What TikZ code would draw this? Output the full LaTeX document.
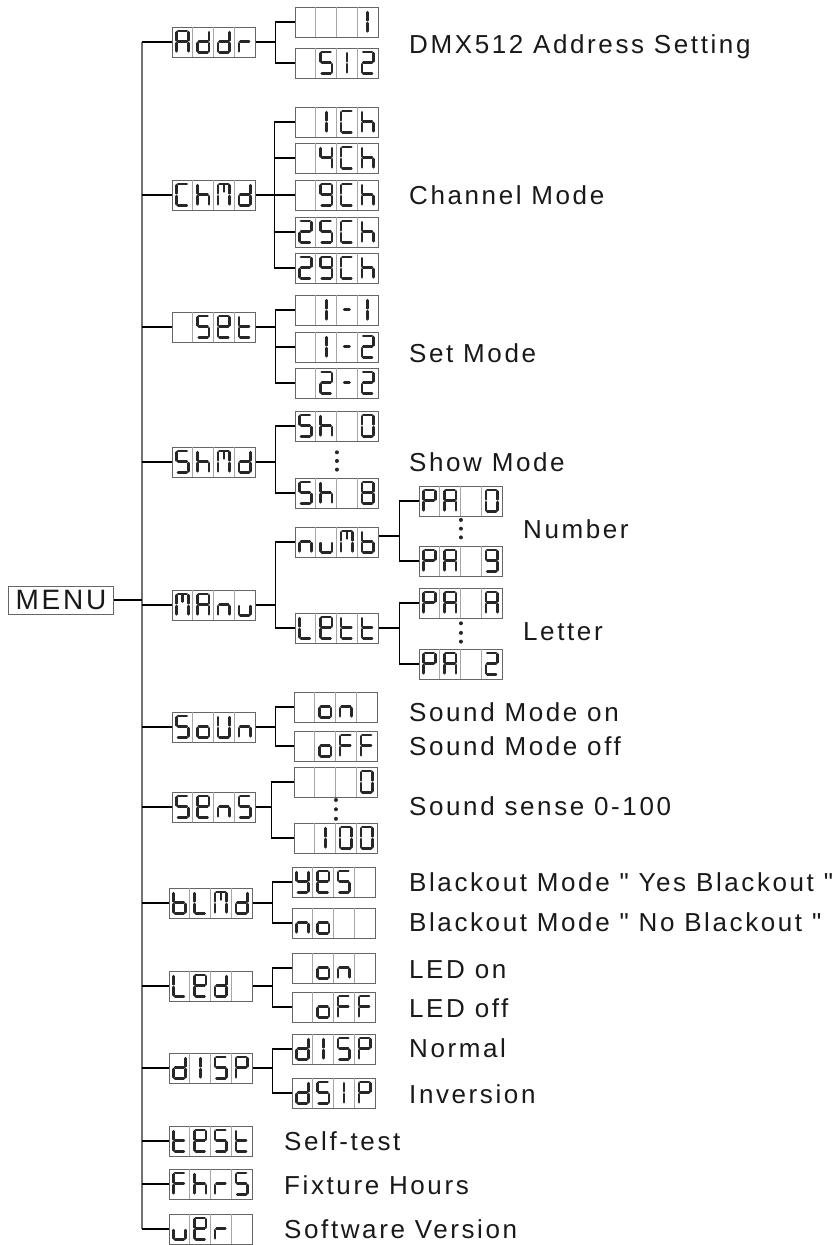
\documentclass[tikz,border=0pt]{standalone}
\usepackage{fontspec}
\newfontfamily\labelfont{Liberation Sans}[LetterSpace=10]
\usetikzlibrary{calc}

% segments of one display cell (x right, y down)
\expandafter\def\csname lcds-a\endcsname{(6,4.3) -- (14.8,4.3)}
\expandafter\def\csname lcds-b\endcsname{(16.2,5.7) -- (16.2,13.8)}
\expandafter\def\csname lcds-c\endcsname{(16.2,16.6) -- (16.2,24.7)}
\expandafter\def\csname lcds-d\endcsname{(6,26.1) -- (14.8,26.1)}
\expandafter\def\csname lcds-e\endcsname{(4.6,16.6) -- (4.6,24.7)}
\expandafter\def\csname lcds-f\endcsname{(4.6,5.7) -- (4.6,13.8)}
\expandafter\def\csname lcds-g\endcsname{(6,15.2) -- (14.8,15.2)}
\expandafter\def\csname lcds-i\endcsname{(10.4,5.7) -- (10.4,13.8)}
\expandafter\def\csname lcds-j\endcsname{(10.4,16.6) -- (10.4,24.7)}
\expandafter\def\csname lcds-k\endcsname{(10.4,5.7) -- (10.4,12)}
\expandafter\def\csname lcds-m\endcsname{(7.8,15.2) -- (13,15.2)}
\expandafter\def\csname lcds-z\endcsname{(0,0)}

% glyphs
\newcommand{\defglyph}[2]{\expandafter\def\csname lcdg-#1\endcsname{#2}}
\defglyph{x}{z}
\defglyph{-}{m}
\defglyph{0}{a,b,c,d,e,f}
\defglyph{1}{i,j}
\defglyph{2}{a,b,d,e,g}
\defglyph{4}{b,c,f,g}
\defglyph{5}{a,c,d,f,g}
\defglyph{8}{a,b,c,d,e,f,g}
\defglyph{9}{a,b,c,d,f,g}
\defglyph{A}{a,b,c,e,f,g}
\defglyph{b}{c,d,e,f,g}
\defglyph{C}{a,d,e,f}
\defglyph{d}{b,c,d,e,g}
\defglyph{E}{a,b,d,e,f,g}
\defglyph{F}{a,e,f,g}
\defglyph{h}{c,e,f,g}
\defglyph{L}{d,e,f}
\defglyph{M}{a,b,c,e,f,k}
\defglyph{n}{c,e,g}
\defglyph{o}{c,d,e,g}
\defglyph{P}{a,b,e,f,g}
\defglyph{r}{e,g}
\defglyph{S}{a,c,d,f,g}
\defglyph{t}{d,e,f,g}
\defglyph{u}{c,d,e}
\defglyph{U}{b,c,d,e,f}
\defglyph{Y}{b,c,d,f,g}

\tikzset{
  lcdbox/.style={draw=black!60, line width=0.9pt, rectangle, minimum width=83pt,
    minimum height=30pt, inner sep=0pt, anchor=west},
  lcddiv/.style={draw=black!35, line width=0.8pt},
  lcdseg/.style={draw=black!85, line width=2.7pt, line cap=round},
  link/.style={line width=1.1pt},
  stem/.style={line width=2pt},
  busline/.style={draw=black!55, line width=1.4pt},
  caption/.style={anchor=base west, inner sep=0pt, text=black!90,
    font=\labelfont\fontsize{26}{30}\selectfont},
}

% four-cell display content of a box
\newcommand{\lcdshow}[2]{%
  \foreach \k in {1,2,3}
    \draw[lcddiv] ($(#1.north west)+(\k*20.75,0)$) -- ($(#1.south west)+(\k*20.75,0)$);
  \foreach \ch [count=\k from 0] in {#2}{%
    \begin{scope}[shift={(#1.north west)}, xshift=\k*20.75]
      \edef\seglist{\csname lcdg-\ch\endcsname}%
      \foreach \s in \seglist {\draw[lcdseg] \csname lcds-\s\endcsname;}
    \end{scope}}}

\begin{document}
\begin{tikzpicture}[x=1pt, y=-1pt]
\path[use as bounding box, fill=white] (0,0) rectangle (835,1245);
\coordinate (bus) at (142,0);

% Menu
\node[draw=black!60, line width=0.9pt, minimum width=105pt, minimum height=28pt,
  inner sep=0pt, anchor=west, text=black!90,
  font=\labelfont\fontsize{28}{30}\selectfont] (menu) at (8,600) {MENU};

% First level
\node[lcdbox] (addr) at (172,42) {};
\node[lcdbox] (chmd) at (172,195) {};
\node[lcdbox] (set) at (172,327) {};
\node[lcdbox] (shmd) at (172,462) {};
\node[lcdbox] (manu) at (172,605) {};
\node[lcdbox] (soun) at (172,727) {};
\node[lcdbox] (sens) at (172,807) {};
\node[lcdbox] (blmd) at (169,903) {};
\node[lcdbox] (led) at (169,986) {};
\node[lcdbox] (disp) at (169,1068) {};
\node[lcdbox] (test) at (169,1141) {};
\node[lcdbox] (fhrs) at (169,1184) {};
\node[lcdbox] (ver) at (169,1229) {};
\lcdshow{addr}{A,d,d,r}
\lcdshow{chmd}{C,h,M,d}
\lcdshow{set}{x,S,E,t}
\lcdshow{shmd}{S,h,M,d}
\lcdshow{manu}{M,A,n,u}
\lcdshow{soun}{S,o,U,n}
\lcdshow{sens}{S,E,n,S}
\lcdshow{blmd}{b,L,M,d}
\lcdshow{led}{L,E,d,x}
\lcdshow{disp}{d,1,S,P}
\lcdshow{test}{t,E,S,t}
\lcdshow{fhrs}{F,h,r,S}
\lcdshow{ver}{u,E,r,x}

\draw[busline] (bus |- addr.west) -- (bus |- ver.west);
\draw[link] (menu.east) -- (menu.east -| bus);
\foreach \n in {addr,chmd,set,shmd,manu,soun,sens,blmd,led,disp,test,fhrs,ver}
  \draw[link] (bus |- \n.west) -- (\n.west);

% Address
\node[lcdbox] (addr1) at (295,22) {};
\node[lcdbox] (addr512) at (295,63) {};
\lcdshow{addr1}{x,x,x,1}
\lcdshow{addr512}{x,5,1,2}
\coordinate (addrj) at ($(addr.east)+(20,0)$);
\draw[stem] (addr.east) -- (addrj);
\foreach \c in {addr1,addr512} \draw[link] (addrj) |- (\c.west);
\node[caption] (lbladdr) at (409,53.3) {DMX512 Address Setting};

% Channel mode
\node[lcdbox] (ch1) at (295,122) {};
\node[lcdbox] (ch4) at (295,158) {};
\node[lcdbox] (ch9) at (295,195) {};
\node[lcdbox] (ch25) at (295,232) {};
\node[lcdbox] (ch29) at (295,268) {};
\lcdshow{ch1}{x,1,C,h}
\lcdshow{ch4}{x,4,C,h}
\lcdshow{ch9}{x,9,C,h}
\lcdshow{ch25}{2,5,C,h}
\lcdshow{ch29}{2,9,C,h}
\coordinate (chmdj) at ($(chmd.east)+(19,0)$);
\draw[stem] (chmd.east) -- (chmdj);
\foreach \c in {ch1,ch4,ch9,ch25,ch29} \draw[link] (chmdj) |- (\c.west);
\node[caption] (lblchmd) at (409,204.3) {Channel Mode};

% Set mode
\node[lcdbox] (set11) at (295,310) {};
\node[lcdbox] (set12) at (295,347) {};
\node[lcdbox] (set22) at (295,383) {};
\lcdshow{set11}{x,1,-,1}
\lcdshow{set12}{x,1,-,2}
\lcdshow{set22}{x,2,-,2}
\coordinate (setj) at ($(set.east)+(20,0)$);
\draw[link] (set.east) -- (setj);
\foreach \c in {set11,set12,set22} \draw[link] (setj) |- (\c.west);
\node[caption] (lblset) at (409,362.3) {Set Mode};

% Show mode
\node[lcdbox] (sh0) at (295,426) {};
\node[lcdbox] (sh8) at (295,493) {};
\lcdshow{sh0}{S,h,x,0}
\lcdshow{sh8}{S,h,x,8}
\coordinate (shmdj) at ($(shmd.east)+(20,0)$);
\draw[link] (shmd.east) -- (shmdj);
\foreach \c in {sh0,sh8} \draw[link] (shmdj) |- (\c.west);
\foreach \t in {0.3,0.54,0.78} \fill[black!85] ($(sh0.south)!\t!(sh8.north)$) circle (2);
\node[caption] (lblshmd) at (409,471.3) {Show Mode};

% Manual
\node[lcdbox] (numb) at (295,542) {};
\node[lcdbox] (lett) at (295,628) {};
\lcdshow{numb}{n,u,M,b}
\lcdshow{lett}{L,E,t,t}
\coordinate (manuj) at ($(manu.east)+(20,0)$);
\draw[stem] (manu.east) -- (manuj);
\foreach \c in {numb,lett} \draw[link] (manuj) |- (\c.west);

\node[lcdbox] (pa0) at (419,501) {};
\node[lcdbox] (pa9) at (419,561) {};
\node[lcdbox] (paa) at (419,603) {};
\node[lcdbox] (paz) at (419,664) {};
\lcdshow{pa0}{P,A,x,0}
\lcdshow{pa9}{P,A,x,9}
\lcdshow{paa}{P,A,x,A}
\lcdshow{paz}{P,A,x,2}
\coordinate (numbj) at ($(numb.east)+(21,-6)$);
\draw[stem] ($(numb.east)+(0,-6)$) -- (numbj);
\foreach \c in {pa0,pa9} \draw[link] (numbj) |- (\c.west);
\coordinate (lettj) at ($(lett.east)+(21,0)$);
\draw[stem] (lett.east) -- (lettj);
\foreach \c in {paa,paz} \draw[link] (lettj) |- (\c.west);
\foreach \t in {0.12,0.42,0.72} \fill[black!85] ($(pa0.south)!\t!(pa9.north)$) circle (2);
\foreach \t in {0.16,0.48,0.77} \fill[black!85] ($(paa.south)!\t!(paz.north)$) circle (2);
\node[caption] (lblnumb) at (523,538.3) {Number};
\node[caption] (lbllett) at (523,640.3) {Letter};

% Sound
\node[lcdbox] (sonon) at (294,707) {};
\node[lcdbox] (sonoff) at (294,746) {};
\lcdshow{sonon}{x,o,n,x}
\lcdshow{sonoff}{x,o,F,F}
\coordinate (sounj) at ($(soun.east)+(20,0)$);
\draw[stem] (soun.east) -- (sounj);
\foreach \c in {sonon,sonoff} \draw[link] (sounj) |- (\c.west);
\node[caption] (lblsonon) at (409,721.3) {Sound Mode on};
\node[caption] (lblsonoff) at (409,755.3) {Sound Mode off};

% Sense
\node[lcdbox] (sens0) at (294,782) {};
\node[lcdbox] (sens100) at (294,838) {};
\lcdshow{sens0}{x,x,x,0}
\lcdshow{sens100}{x,1,0,0}
\coordinate (sensj) at ($(sens.east)+(16,0)$);
\draw[link] (sens.east) -- (sensj);
\foreach \c in {sens0,sens100} \draw[link] (sensj) |- (\c.west);
\foreach \t in {0.1,0.47,0.85} \fill[black!85] ($(sens0.south)!\t!(sens100.north)$) circle (2);
\node[caption] (lblsens) at (409,815.3) {Sound sense 0-100};

% Blackout
\node[lcdbox] (blyes) at (292,882) {};
\node[lcdbox] (blno) at (292,923) {};
\lcdshow{blyes}{Y,E,S,x}
\lcdshow{blno}{n,o,x,x}
\coordinate (blmdj) at ($(blmd.east)+(20,0)$);
\draw[stem] (blmd.east) -- (blmdj);
\foreach \c in {blyes,blno} \draw[link] (blmdj) |- (\c.west);
\node[caption] (lblyes) at (409,891.3) {Blackout Mode " Yes Blackout "};
\node[caption] (lblno) at (409,931.3) {Blackout Mode " No Blackout "};

% LED
\node[lcdbox] (ledon) at (292,968) {};
\node[lcdbox] (ledoff) at (292,1007) {};
\lcdshow{ledon}{x,o,n,x}
\lcdshow{ledoff}{x,o,F,F}
\coordinate (ledj) at ($(led.east)+(20,0)$);
\draw[stem] (led.east) -- (ledj);
\foreach \c in {ledon,ledoff} \draw[link] (ledj) |- (\c.west);
\node[caption] (lblledon) at (409,978.3) {LED on};
\node[caption] (lblledoff) at (409,1017.3) {LED off};

% Display
\node[lcdbox] (dispn) at (292,1049) {};
\node[lcdbox] (dispi) at (292,1093) {};
\lcdshow{dispn}{d,1,S,P}
\lcdshow{dispi}{d,S,1,P}
\coordinate (dispj) at ($(disp.east)+(20,0)$);
\draw[stem] (disp.east) -- (dispj);
\foreach \c in {dispn,dispi} \draw[link] (dispj) |- (\c.west);
\node[caption] (lbldispn) at (409,1057.3) {Normal};
\node[caption] (lbldispi) at (409,1103.3) {Inversion};

% Single items
\node[caption] (lbltest) at (284,1150.3) {Self-test};
\node[caption] (lblfhrs) at (284,1194.3) {Fixture Hours};
\node[caption] (lblver) at (284,1238.3) {Software Version};
\end{tikzpicture}
\end{document}
